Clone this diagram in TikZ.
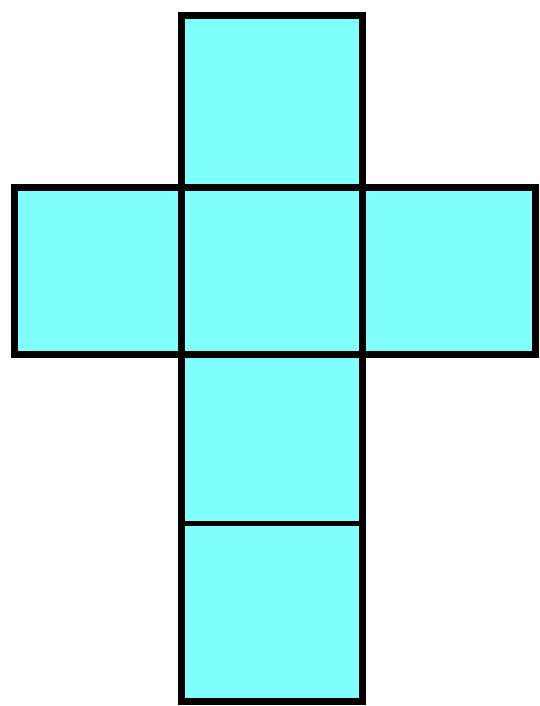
\documentclass[tikz,border=0pt]{standalone}
\usepackage{xcolor}
\usepackage{tikz}
\definecolor{netcyan}{RGB}{128,255,255}

\begin{document}
\begin{tikzpicture}[x=1pt, y=-1pt,
    face/.style={fill=netcyan, draw=black, line width=7pt, line join=miter},
    fold/.style={draw=black, line width=7pt, line cap=rect},
    thinfold/.style={draw=black, line width=5pt}]
    \useasboundingbox (0,0) rectangle (539,706);
    % outline of the net
    \path[face] (181,16) -- (362,16) -- (362,187) -- (535,187) -- (535,354)
        -- (362,354) -- (362,701) -- (181,701) -- (181,354) -- (14,354)
        -- (14,187) -- (181,187) -- cycle;
    % corners of the middle face
    \coordinate (tl) at (181,187);
    \coordinate (tr) at (362,187);
    \coordinate (bl) at (181,354);
    \coordinate (br) at (362,354);
    \coordinate (ml) at (181,523);
    \coordinate (mr) at (362,523);
    % fold lines
    \draw[fold] (tl) -- (tr);
    \draw[fold] (bl) -- (br);
    \draw[fold] (tl) -- (bl);
    \draw[fold] (tr) -- (br);
    \draw[thinfold] (ml) -- (mr);
\end{tikzpicture}
\end{document}
